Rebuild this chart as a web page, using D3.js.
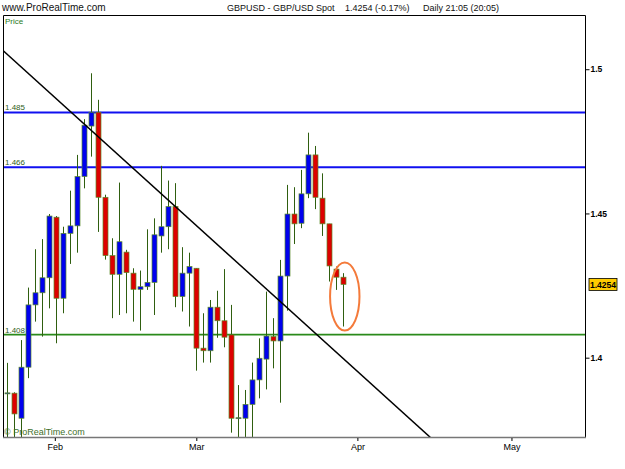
<!DOCTYPE html>
<html>
<head>
<meta charset="utf-8">
<script src="https://cdn.jsdelivr.net/npm/d3@7"></script>
<style>
body { margin: 0; background: #fff; }
svg { display: block; font-family: "Liberation Sans", Arial, sans-serif; }
</style>
</head>
<body>
<svg id="chart" width="625" height="469"></svg>
<script>
// daily GBP/USD candles, late Jan -> end of Mar
const opens = [1.3878, 1.3877, 1.3790, 1.3967, 1.4183, 1.4225, 1.4277, 1.4487, 1.4206, 1.4431,
	1.4457, 1.4628, 1.4803, 1.4851, 1.4556, 1.4354, 1.4289, 1.4366, 1.4293, 1.4237,
	1.4246, 1.4261, 1.4422, 1.4454, 1.4524, 1.4212, 1.4293, 1.4310, 1.4033, 1.4024,
	1.4175, 1.4128, 1.4079, 1.3790, 1.3790, 1.3838, 1.3923, 1.3995, 1.4073, 1.4058,
	1.4283, 1.4498, 1.4466, 1.4568, 1.4703, 1.4553, 1.4464, 1.4307, 1.4279]
const highs = [1.3982, 1.3880, 1.4061, 1.4243, 1.4376, 1.4411, 1.4498, 1.4491, 1.4454, 1.4579,
	1.4703, 1.4827, 1.4986, 1.4894, 1.4565, 1.4414, 1.4607, 1.4374, 1.4310, 1.4302,
	1.4445, 1.4483, 1.4665, 1.4614, 1.4605, 1.4383, 1.4364, 1.4310, 1.4154, 1.4200,
	1.4232, 1.4307, 1.4183, 1.3905, 1.3888, 1.3983, 1.4067, 1.4229, 1.4137, 1.4339,
	1.4599, 1.4591, 1.4651, 1.4780, 1.4734, 1.4639, 1.4464, 1.4316, 1.4293]
const lows = [1.3700, 1.3700, 1.3700, 1.3929, 1.4125, 1.4073, 1.4171, 1.4050, 1.4154, 1.4325,
	1.4364, 1.4587, 1.4697, 1.4436, 1.4340, 1.4137, 1.4148, 1.4154, 1.4125, 1.4094,
	1.4235, 1.4148, 1.4364, 1.4376, 1.4175, 1.4160, 1.4108, 1.3955, 1.3983, 1.3983,
	1.4069, 1.4036, 1.3740, 1.3700, 1.3700, 1.3700, 1.3859, 1.3890, 1.3963, 1.3844,
	1.4163, 1.4394, 1.4449, 1.4553, 1.4515, 1.4422, 1.4264, 1.4235, 1.4108]
const closes = [1.3878, 1.3805, 1.3967, 1.4183, 1.4225, 1.4277, 1.4491, 1.4206, 1.4431, 1.4457,
	1.4628, 1.4806, 1.4851, 1.4556, 1.4354, 1.4289, 1.4402, 1.4295, 1.4237, 1.4246,
	1.4261, 1.4426, 1.4454, 1.4524, 1.4212, 1.4293, 1.4316, 1.4033, 1.4024, 1.4175,
	1.4128, 1.4071, 1.3790, 1.3792, 1.3838, 1.3923, 1.3998, 1.4075, 1.4058, 1.4283,
	1.4498, 1.4464, 1.4568, 1.4703, 1.4556, 1.4464, 1.4318, 1.4279, 1.4254]

// month ticks, in candle-index units
const monthLabels = ['Feb', 'Mar', 'Apr', 'May']
const monthIndex = [6.8, 27, 50, 72]
const priceTicks = [1.4, 1.45, 1.5]

// drawn levels and trend line
const levels = [1.485, 1.466, 1.408]
const levelLabels = ['1.485', '1.466', '1.408']
const trendIndex = [-0.6, 60.4]
const trendPrice = [1.5065, 1.3724]
// circled area round the last two candles
const circleIndex = [46.1, 50.3]
const circlePrice = [1.4094, 1.4330]

const lastPrice = 1.4254
const title = ['GBPUSD - GBP/USD Spot', '1.4254 (-0.17%)', 'Daily  21:05 (20:05)']

const LEFT = 3, RIGHT = 585, TOP = 15, BOTTOM = 437
const UP = '#0000ee', DOWN = '#dd0000', WICK = '#2f5e0f'

const svg = d3.select('#chart')
const x = d3.scaleLinear().domain([-0.6, 82.5]).range([LEFT, RIGHT])
const y = d3.scaleLinear().domain([1.3725, 1.5188]).range([BOTTOM, TOP])

const candles = opens.map((o, i) => ({ i, o, h: highs[i], l: lows[i], c: closes[i] }))

svg.append('defs').append('clipPath').attr('id', 'plot')
	.append('rect')
	.attr('x', LEFT).attr('y', TOP)
	.attr('width', RIGHT - LEFT).attr('height', BOTTOM - TOP)

// header
svg.append('text').attr('x', 2).attr('y', 11)
	.attr('font-size', 10).attr('fill', '#111')
	.text('www.ProRealTime.com')
const titleX = [227, 345, 423]
title.forEach((t, i) => {
	svg.append('text').attr('x', titleX[i]).attr('y', 11)
		.attr('font-size', 9).attr('fill', '#111')
		.text(t)
})

const plot = svg.append('g').attr('clip-path', 'url(#plot)')

// levels
const levelColour = d => d > 1.45 ? '#1010f0' : '#2a8a1a'
plot.selectAll('.level').data(levels).enter()
	.append('line')
	.attr('x1', LEFT).attr('x2', RIGHT)
	.attr('y1', d => y(d)).attr('y2', d => y(d))
	.attr('stroke', levelColour)
	.attr('stroke-width', d => d > 1.45 ? 2 : 1.6)

// candles
const g = plot.selectAll('.candle').data(candles).enter().append('g')
g.append('line')
	.attr('x1', d => Math.round(x(d.i)) + 0.5).attr('x2', d => Math.round(x(d.i)) + 0.5)
	.attr('y1', d => y(d.h)).attr('y2', d => y(d.l))
	.attr('stroke', WICK).attr('stroke-width', 1)
g.append('rect')
	.attr('x', d => Math.round(x(d.i)) - 2)
	.attr('width', 5)
	.attr('y', d => y(Math.max(d.o, d.c)))
	.attr('height', d => Math.max(1, y(Math.min(d.o, d.c)) - y(Math.max(d.o, d.c))))
	.attr('fill', d => d.c >= d.o ? UP : DOWN)
	.attr('stroke', '#5b8a2a').attr('stroke-width', 0.7)

// trend line
plot.append('line')
	.attr('x1', x(trendIndex[0])).attr('y1', y(trendPrice[0]))
	.attr('x2', x(trendIndex[1])).attr('y2', y(trendPrice[1]))
	.attr('stroke', '#000').attr('stroke-width', 1.5)

// circled area
plot.append('ellipse')
	.attr('cx', (x(circleIndex[0]) + x(circleIndex[1])) / 2)
	.attr('cy', (y(circlePrice[0]) + y(circlePrice[1])) / 2)
	.attr('rx', (x(circleIndex[1]) - x(circleIndex[0])) / 2)
	.attr('ry', (y(circlePrice[0]) - y(circlePrice[1])) / 2)
	.attr('fill', 'none').attr('stroke', '#f47a3a').attr('stroke-width', 2)

// level labels
svg.selectAll('.levelLabel').data(levels).enter()
	.append('text')
	.attr('x', 5).attr('y', d => y(d) - 2)
	.attr('font-size', 8).attr('fill', '#2f5e1a')
	.text((d, i) => levelLabels[i])

svg.append('text').attr('x', 5).attr('y', 24)
	.attr('font-size', 8).attr('fill', '#2a7a1a').text('Price')
svg.append('text').attr('x', 4).attr('y', 435)
	.attr('font-size', 9).attr('fill', '#3f6f2a').text('© ProRealTime.com')

// frame
svg.append('path')
	.attr('d', `M${LEFT + 0.5},${BOTTOM}V${TOP + 0.5}H${RIGHT + 0.5}V${BOTTOM}`)
	.attr('fill', 'none').attr('stroke', '#000')
svg.append('line')
	.attr('x1', LEFT).attr('x2', RIGHT + 1).attr('y1', BOTTOM + 0.5).attr('y2', BOTTOM + 0.5)
	.attr('stroke', '#777').attr('stroke-width', 1.5)

// axes
const yAxis = svg.append('g')
	.attr('transform', `translate(${RIGHT + 0.5},0)`)
	.call(d3.axisRight(y).tickValues(priceTicks).tickSize(4).tickPadding(1).tickFormat(d => String(d)))
yAxis.select('.domain').remove()
yAxis.selectAll('text').attr('font-size', 8.5).attr('font-weight', 'bold')
	.attr('font-family', '"Liberation Sans", Arial, sans-serif')

const xAxis = svg.append('g')
	.attr('transform', `translate(0,${BOTTOM + 1})`)
	.call(d3.axisBottom(x).tickValues(monthIndex).tickSize(3).tickPadding(3)
		.tickFormat((d, i) => monthLabels[i]))
xAxis.select('.domain').remove()
xAxis.selectAll('text').attr('font-size', 9)
	.attr('font-family', '"Liberation Sans", Arial, sans-serif')

// last price box
const lp = svg.append('g').attr('transform', `translate(589,${y(lastPrice)})`)
lp.append('rect').attr('x', 0).attr('y', -6).attr('width', 28).attr('height', 12)
	.attr('fill', '#ffcc00').attr('stroke', '#000').attr('stroke-width', 0.8)
lp.append('text').attr('x', 14).attr('y', 3.5).attr('text-anchor', 'middle')
	.attr('font-size', 8.5).attr('font-weight', 'bold').text(lastPrice.toFixed(4))
</script>
</body>
</html>
